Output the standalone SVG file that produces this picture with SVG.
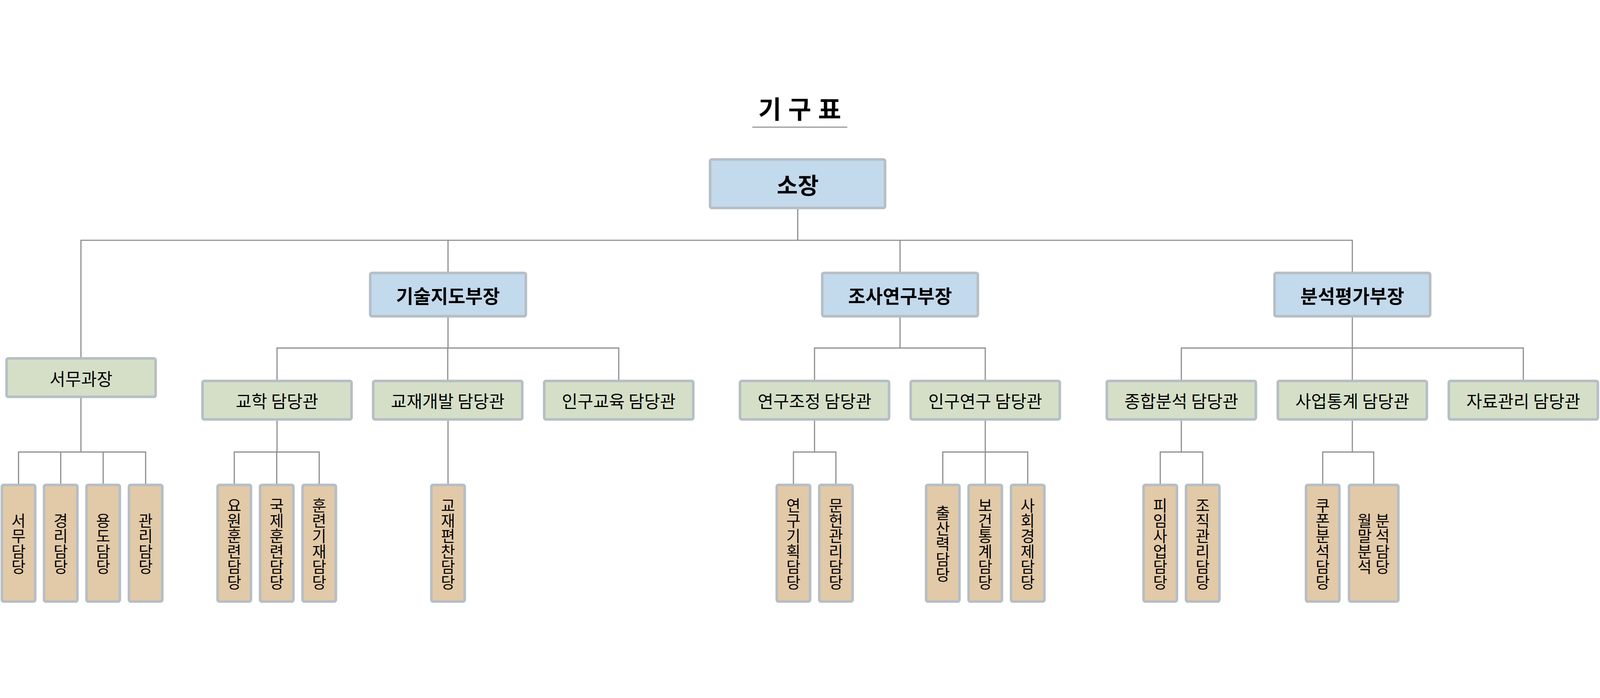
<svg xmlns="http://www.w3.org/2000/svg" width="5614" height="1787" viewBox="0 0 5614 1787">
<style>
:root{width:100vw;height:100vh;}
text{font-family:"Noto Sans CJK KR","Noto Sans",sans-serif;fill:#000;}
.box{stroke:#b6bec5;stroke-width:9;}
.top{fill:#c3d9ec;}
.mid{fill:#d5dfc8;}
.leaf{fill:#e2c9a8;}
.t0{font-size:80px;font-weight:700;text-anchor:middle;dominant-baseline:central;}
.t1{font-size:66px;font-weight:700;text-anchor:middle;dominant-baseline:central;}
.t2{font-size:60px;text-anchor:middle;dominant-baseline:central;}
.tv{font-size:54px;writing-mode:vertical-rl;text-anchor:middle;}
.ln{fill:none;stroke:#8c8c8c;stroke-width:4;stroke-linecap:square;}
</style>
<rect width="5614" height="1787" fill="#fff"/>
<g id="title">
<text x="2818" y="46" style="font-size:88px;font-weight:700;letter-spacing:24px;text-anchor:middle;dominant-baseline:central">기구표</text>
<line x1="2640" y1="115" x2="2973" y2="115" stroke="#9a9a9a" stroke-width="4"/>
</g>
<g id="connectors" class="ln">
<path d="M2799 403V512M284 512H4745M284 512V922M1572 512V622M3158 512V622M4745 512V622"/>
<path d="M1572 783V890M972 890H2171M972 890V1001M1571 890V1001M2171 890V1001"/>
<path d="M3158 783V890M2858 890H3457M2858 890V1001M3457 890V1001"/>
<path d="M4745 783V890M4145 890H5345M4145 890V1001M4745 890V1001M5345 890V1001"/>
<path d="M284 1066V1255M65 1255H511M65 1255V1366M213 1255V1366M362 1255V1366M511 1255V1366"/>
<path d="M972 1145V1255M822 1255H1120M822 1255V1366M971 1255V1366M1120 1255V1366"/>
<path d="M1572 1145V1366"/>
<path d="M2858 1145V1255M2784 1255H2933M2784 1255V1366M2933 1255V1366"/>
<path d="M3457 1145V1255M3308 1255H3606M3308 1255V1366M3457 1255V1366M3606 1255V1366"/>
<path d="M4145 1145V1255M4071 1255H4220M4071 1255V1366M4220 1255V1366"/>
<path d="M4745 1145V1255M4641 1255H4820M4641 1255V1366M4820 1255V1366"/>
</g>
<g id="n-sojang"><rect class="box top" x="2491.5" y="228.5" width="614" height="170" rx="6"/><text class="t0" x="2799" y="314">소장</text></g>
<g id="n-gisul"><rect class="box top" x="1299" y="626.5" width="546" height="152" rx="6"/><text class="t1" x="1572" y="704">기술지도부장</text></g>
<g id="n-josa"><rect class="box top" x="2885" y="626.5" width="546" height="152" rx="6"/><text class="t1" x="3158" y="704">조사연구부장</text></g>
<g id="n-bunseok"><rect class="box top" x="4472" y="626.5" width="546" height="152" rx="6"/><text class="t1" x="4745" y="704">분석평가부장</text></g>
<g id="n-seomu"><rect class="box mid" x="23" y="926.5" width="523" height="135" rx="6"/><text class="t2" x="284.5" y="995">서무과장</text></g>
<g id="n-gyohak"><rect class="box mid" x="710.5" y="1005.5" width="523" height="135" rx="6"/><text class="t2" x="972" y="1074">교학 담당관</text></g>
<g id="n-gyojae"><rect class="box mid" x="1309.5" y="1005.5" width="523" height="135" rx="6"/><text class="t2" x="1571" y="1074">교재개발 담당관</text></g>
<g id="n-ingugyo"><rect class="box mid" x="1909.5" y="1005.5" width="523" height="135" rx="6"/><text class="t2" x="2171" y="1074">인구교육 담당관</text></g>
<g id="n-yeongu"><rect class="box mid" x="2596.5" y="1005.5" width="523" height="135" rx="6"/><text class="t2" x="2858" y="1074">연구조정 담당관</text></g>
<g id="n-inguyeon"><rect class="box mid" x="3195.5" y="1005.5" width="523" height="135" rx="6"/><text class="t2" x="3457" y="1074">인구연구 담당관</text></g>
<g id="n-jonghap"><rect class="box mid" x="3883.5" y="1005.5" width="523" height="135" rx="6"/><text class="t2" x="4145" y="1074">종합분석 담당관</text></g>
<g id="n-saeop"><rect class="box mid" x="4483.5" y="1005.5" width="523" height="135" rx="6"/><text class="t2" x="4745" y="1074">사업통계 담당관</text></g>
<g id="n-jaryo"><rect class="box mid" x="5083.5" y="1005.5" width="523" height="135" rx="6"/><text class="t2" x="5345" y="1074">자료관리 담당관</text></g>
<g id="l-seomu"><rect class="box leaf" x="6.5" y="1370.5" width="117" height="409" rx="6"/><text class="tv" x="65" y="1577">서무담당</text></g>
<g id="l-gyeongni"><rect class="box leaf" x="154.5" y="1370.5" width="117" height="409" rx="6"/><text class="tv" x="213" y="1577">경리담당</text></g>
<g id="l-yongdo"><rect class="box leaf" x="303.5" y="1370.5" width="117" height="409" rx="6"/><text class="tv" x="362" y="1577">용도담당</text></g>
<g id="l-gwanri"><rect class="box leaf" x="452.5" y="1370.5" width="117" height="409" rx="6"/><text class="tv" x="511" y="1577">관리담당</text></g>
<g id="l-yowon"><rect class="box leaf" x="763.5" y="1370.5" width="117" height="409" rx="6"/><text class="tv" x="822" y="1577">요원훈련담당</text></g>
<g id="l-gukje"><rect class="box leaf" x="912.5" y="1370.5" width="117" height="409" rx="6"/><text class="tv" x="971" y="1577">국제훈련담당</text></g>
<g id="l-hullyeon"><rect class="box leaf" x="1061.5" y="1370.5" width="117" height="409" rx="6"/><text class="tv" x="1120" y="1577">훈련기재담당</text></g>
<g id="l-gyojaepyeon"><rect class="box leaf" x="1513.5" y="1370.5" width="117" height="409" rx="6"/><text class="tv" x="1572" y="1577">교재편찬담당</text></g>
<g id="l-yeongugihoek"><rect class="box leaf" x="2725.5" y="1370.5" width="117" height="409" rx="6"/><text class="tv" x="2784" y="1577">연구기획담당</text></g>
<g id="l-munheon"><rect class="box leaf" x="2874.5" y="1370.5" width="117" height="409" rx="6"/><text class="tv" x="2933" y="1577">문헌관리담당</text></g>
<g id="l-chulsan"><rect class="box leaf" x="3249.5" y="1370.5" width="117" height="409" rx="6"/><text class="tv" x="3308" y="1577">출산력담당</text></g>
<g id="l-bogeon"><rect class="box leaf" x="3398.5" y="1370.5" width="117" height="409" rx="6"/><text class="tv" x="3457" y="1577">보건통계담당</text></g>
<g id="l-sahoe"><rect class="box leaf" x="3547.5" y="1370.5" width="117" height="409" rx="6"/><text class="tv" x="3606" y="1577">사회경제담당</text></g>
<g id="l-piim"><rect class="box leaf" x="4012.5" y="1370.5" width="117" height="409" rx="6"/><text class="tv" x="4071" y="1577">피임사업담당</text></g>
<g id="l-jojik"><rect class="box leaf" x="4161.5" y="1370.5" width="117" height="409" rx="6"/><text class="tv" x="4220" y="1577">조직관리담당</text></g>
<g id="l-kupon"><rect class="box leaf" x="4582.5" y="1370.5" width="117" height="409" rx="6"/><text class="tv" x="4641" y="1577">쿠폰분석담당</text></g>
<g id="l-wolmal"><rect class="box leaf" x="4733.5" y="1370.5" width="173" height="409" rx="6"/><text class="tv" x="4788" y="1577">월말분석</text><text class="tv" x="4851" y="1577">분석담당</text></g>
</svg>
